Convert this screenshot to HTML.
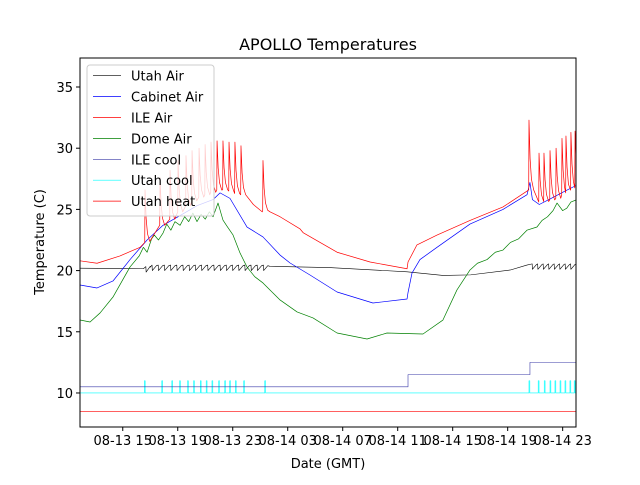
<!DOCTYPE html>
<html><head><meta charset="utf-8"><style>
body{margin:0;background:#fff;}
svg{font-family:"DejaVu Sans","Liberation Sans",sans-serif;}
</style></head><body>
<svg id="chart" width="640" height="480" viewBox="0 0 640 480">
<rect width="640" height="480" fill="#fff"/>
<text x="328" y="50" font-size="16" text-anchor="middle">APOLLO Temperatures</text>
<g id="plot"></g>
<g id="axes"></g>
<text x="328" y="468" font-size="13" text-anchor="middle">Date (GMT)</text>
<text x="44" y="242" font-size="13" text-anchor="middle" transform="rotate(-90 44 242)">Temperature (C)</text>
<g id="legend"></g>
</svg>
<script>
const xTicks=[15,19,23,27,31,35,39,43,47];
const xTickLabels=["08-13 15","08-13 19","08-13 23","08-14 03","08-14 07","08-14 11","08-14 15","08-14 19","08-14 23"];
const yTicks=[10,15,20,25,30,35];
const ileAirT=[11.89,13.13,14.8,16.26,16.6,16.8,17.7,18.44,19.02,19.6,20.04,20.55,21.0,21.42,21.9,22.3,22.73,23.16,23.6,23.89,24.5,25.15,25.3,25.71,26.44,27.9,28.12,30.59,32.99,35.68,35.75,36.4,37.86,40.26,42.66,44.41,44.55,44.75,45.5,46.5,47.97];
const ileAirV=[20.8,20.6,21.2,21.9,22.3,23.15,23.7,24.2,24.8,25.3,25.7,26.0,26.2,26.4,26.6,26.6,26.5,26.3,26.2,26.0,25.4,24.8,25.2,24.8,24.4,23.4,23.1,21.5,20.7,20.15,20.7,22.1,22.9,24.1,25.2,26.5,26.6,25.6,25.6,25.9,26.8];
const ileSpikeT=[16.62,17.71,18.44,19.02,19.6,20.04,20.55,20.99,21.42,21.86,22.29,22.73,23.16,23.6,25.2,44.55,45.28,45.64,46.08,46.52,46.95,47.24,47.6,47.9];
const ileSpikeV=[26.6,27.6,28.2,29.0,29.4,29.8,30.0,30.3,30.5,30.6,30.6,30.5,30.5,30.2,29.0,32.3,29.6,29.6,29.8,30.0,30.8,31.0,31.3,31.4];
const cabT=[11.89,13.13,14.29,15.53,16.77,17.93,19.17,20.4,21.57,22.08,22.8,24.04,25.2,26.44,27.17,28.62,30.59,33.2,35.68,35.75,36.04,36.62,37.86,40.26,42.66,44.41,44.62,44.8,45.3,46.0,47.0,47.97];
const cabV=[18.82,18.58,19.15,20.9,22.5,23.7,24.5,25.3,25.8,26.35,25.9,23.56,22.75,21.27,20.62,19.64,18.25,17.35,17.68,18.2,19.8,20.9,21.9,23.8,25.0,26.2,27.2,25.8,25.4,25.8,26.4,26.95];
const domeT=[11.89,12.62,13.35,14.29,15.53,16.2,16.5,16.77,17.1,17.3,17.6,17.93,18.2,18.5,18.8,19.17,19.5,19.8,20.1,20.4,20.7,21.0,21.3,21.57,21.93,22.29,22.6,23.02,23.53,24.04,24.6,25.2,26.44,27.68,28.84,30.59,32.77,34.22,36.84,38.29,39.31,40.26,40.8,41.5,42.1,42.66,43.2,43.8,44.4,45.13,45.5,45.9,46.3,46.59,47.0,47.3,47.6,47.97];
const domeV=[15.96,15.8,16.54,17.84,20.3,21.2,21.9,21.5,22.6,22.9,22.5,23.07,23.8,23.3,24.0,23.7,24.4,24.0,24.7,24.0,24.6,24.2,24.8,24.4,25.52,24.13,23.6,22.91,21.44,20.29,19.5,18.99,17.6,16.62,16.13,14.9,14.41,14.9,14.82,15.96,18.42,20.05,20.6,20.9,21.5,21.68,22.3,22.6,23.3,23.56,24.1,24.4,24.9,25.52,24.9,25.1,25.6,25.77];
const utahAirT=[11.89,16.5,17.0,25.7,30.0,35.68,38.3,40.3,43.2,44.4,47.97];
const utahAirV=[20.2,20.15,20.35,20.35,20.25,19.9,19.6,19.65,20.05,20.45,20.45];
const utahDipT=[16.7,17.15,17.6,18.05,18.5,18.95,19.4,19.85,20.3,20.75,21.2,21.65,22.1,22.55,23.0,23.45,23.9,24.35,24.8,25.25,44.8,45.2,45.6,46.0,46.4,46.8,47.2,47.6];
const utahCoolPulseT=[16.57,17.84,18.57,19.13,19.71,20.15,20.64,21.07,21.49,21.98,22.42,22.78,23.19,23.8,25.33,44.55,45.22,45.66,46.08,46.44,46.81,47.17,47.53,47.84];
const utahCoolBase=10, utahCoolOn=11;
const ileCoolStepT=[11.89,35.75,44.62,47.97];
const ileCoolStepV=[10.5,11.5,12.5];
const utahHeatV=8.5;

const X0=80,X1=576,Y0=427,Y1=58,T0=11.89,T1=47.97,V0=7.22,V1=37.37;
const sx=t=>X0+(t-T0)/(T1-T0)*(X1-X0);
const sy=v=>Y0-(v-V0)/(V1-V0)*(Y0-Y1);
const NS="http://www.w3.org/2000/svg";
const plot=document.getElementById('plot'),axes=document.getElementById('axes'),leg=document.getElementById('legend');
function mk(tag,attrs,parent){const e=document.createElementNS(NS,tag);for(const k in attrs)e.setAttribute(k,attrs[k]);parent.appendChild(e);return e;}
function interp(ts,vs,t){if(t<=ts[0])return vs[0];for(let i=1;i<ts.length;i++){if(t<=ts[i]){const f=(t-ts[i-1])/(ts[i]-ts[i-1]);return vs[i-1]+f*(vs[i]-vs[i-1]);}}return vs[vs.length-1];}
function line(pts,color,name,w){const p=mk('polyline',{points:pts.map(p=>sx(p[0]).toFixed(2)+','+sy(p[1]).toFixed(2)).join(' '),fill:'none',stroke:color,'stroke-width':w||0.7,'stroke-linejoin':'round'},plot);

}
const cp=mk('clipPath',{id:'cp'},mk('defs',{},plot));mk('rect',{x:X0,y:Y1,width:X1-X0,height:Y0-Y1},cp);
plot.setAttribute('clip-path','url(#cp)');
line([[T0,utahHeatV],[T1,utahHeatV]],'#ff0000','utah-heat-line',0.6);
let uc=[[T0,utahCoolBase]];utahCoolPulseT.forEach(t=>{uc.push([t,utahCoolBase],[t,utahCoolOn],[t+0.06,utahCoolOn],[t+0.06,utahCoolBase]);});uc.push([T1,utahCoolBase]);
line(uc,'#00ffff','utah-cool-line',0.6);
let ic=[];ileCoolStepV.forEach((v,i)=>{ic.push([ileCoolStepT[i],v],[ileCoolStepT[i+1],v]);});
line(ic,'#3a3aa8','ile-cool-line',0.6);
let ua=[];utahAirT.forEach((t,i)=>ua.push([t,utahAirV[i]]));
utahDipT.forEach(t=>{const b=interp(utahAirT,utahAirV,t);ua.push([t-0.02,b+0.1],[t,b-0.35],[t+0.3,b+0.05]);});
ua.sort((a,b)=>a[0]-b[0]);
line(ua,'#000000','utah-air-line',0.6);
line(domeT.map((t,i)=>[t,domeV[i]]),'#008000','dome-air-line');
line(cabT.map((t,i)=>[t,cabV[i]]),'#0000ff','cabinet-air-line');
let ia=ileAirT.map((t,i)=>[t,ileAirV[i]]);
ileSpikeT.forEach((t,i)=>{const b=interp(ileAirT,ileAirV,t);const pk=ileSpikeV[i];ia=ia.filter(p=>!(p[0]>t-0.02&&p[0]<t+0.35));ia.push([t-0.02,b],[t,pk],[t+0.08,b+(pk-b)*0.45],[t+0.18,b+(pk-b)*0.15],[t+0.34,b]);});
ia.sort((a,b)=>a[0]-b[0]);
line(ia,'#ff0000','ile-air-line');
mk('rect',{x:X0,y:Y1,width:X1-X0,height:Y0-Y1,fill:'none',stroke:'#000','stroke-width':1},axes);
xTicks.forEach((t,i)=>{const x=sx(t);mk('line',{x1:x,x2:x,y1:Y0,y2:Y0+4,stroke:'#000'},axes);
const tx=mk('text',{x:x,y:Y0+18,'font-size':13,'text-anchor':'middle'},axes);tx.textContent=xTickLabels[i];

});
yTicks.forEach(v=>{const y=sy(v);mk('line',{x1:X0-4,x2:X0,y1:y,y2:y,stroke:'#000'},axes);
const tx=mk('text',{x:X0-7,y:y+5,'font-size':13,'text-anchor':'end'},axes);tx.textContent=v;

});
const names=["Utah Air","Cabinet Air","ILE Air","Dome Air","ILE cool","Utah cool","Utah heat"];
const cols=["#000000","#0000ff","#ff0000","#008000","#3a3aa8","#00ffff","#ff0000"];
const lb=mk('rect',{x:87,y:65,width:127,height:151,rx:3,fill:'#fff','fill-opacity':0.8,stroke:'#ccc'},leg);


names.forEach((n,i)=>{const y=75.7+i*20.9;const g=mk('g',{},leg);


mk('line',{x1:93,x2:121,y1:y,y2:y,stroke:cols[i],'stroke-width':0.7},g);
const tx=mk('text',{x:131,y:y+5,'font-size':13},g);tx.textContent=n;});
</script>
</body></html>
